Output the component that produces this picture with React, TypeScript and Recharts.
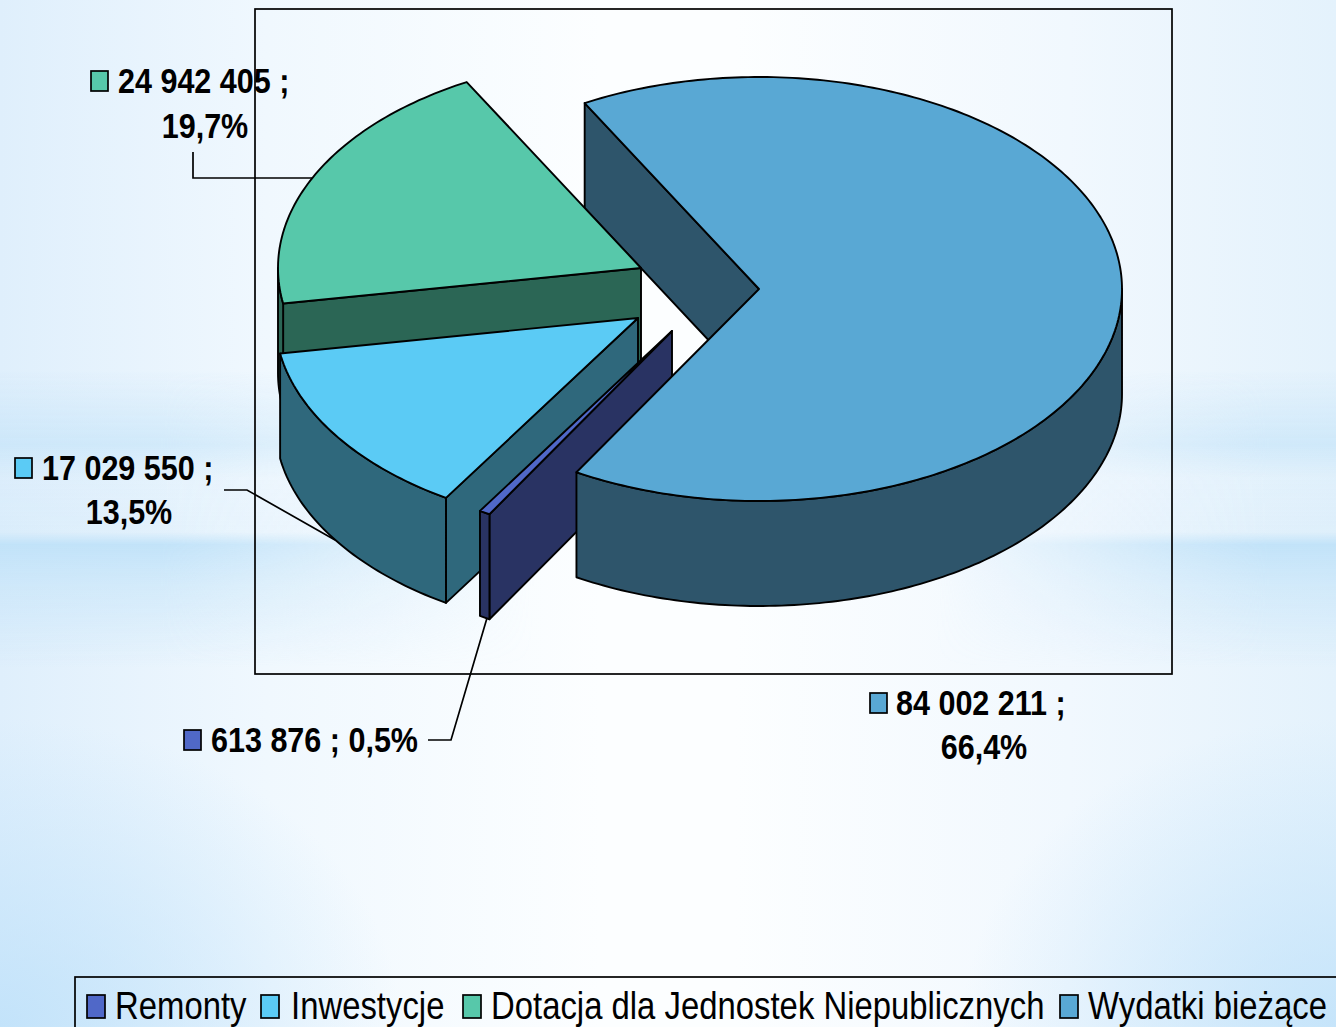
import React from 'react';
import { PieChart, Pie, Legend } from 'recharts';

// paint order: back to front, running counter-clockwise from the back cut
const categories = ['Dotacja dla Jednostek Niepublicznych', 'Inwestycje', 'Remonty', 'Wydatki bieżące'];
const values = [24942405, 17029550, 613876, 84002211];
const topColors = ['#57C8AA', '#5BCBF5', '#5068C8', '#59A8D4'];
const sideColors = ['#2B6655', '#2F687C', '#293363', '#2E556B'];
const legendOrder = ['Remonty', 'Inwestycje', 'Dotacja dla Jednostek Niepublicznych', 'Wydatki bieżące'];

const tableData = categories.map((name, i) => ({ name, value: values[i], fill: topColors[i] }));

const W = 1336;
const H = 1027;
const CX = 759;
const CY = 289;
const RX = 363;
const TILT = 212 / 363;
const DEPTH = 105;
const START = -241.3;
const FONT = '"Liberation Sans", Arial, sans-serif';

// explosion of each slice from the pie centre, in paint order
const explode = [
  [-118, -21],
  [-121, 29],
  [-87, 42],
  [0, 0],
];

const labelLayout = [
  { key: [91, 71], text: 118, base: 93, mid: 205, base2: 138, line: '193,152 193,178 312,178' },
  { key: [15, 458], text: 42, base: 480, mid: 129, base2: 524, line: '224,490 247,490 335,540' },
  { key: [184, 730], text: 211, base: 752, mid: 0, base2: 0, line: '428,740 451,740 487,618' },
  { key: [870, 693], text: 896, base: 715, mid: 984, base2: 759, line: '' },
];

const legendLayout = [
  { key: 87, text: 115 },
  { key: 261, text: 291 },
  { key: 463, text: 491 },
  { key: 1060, text: 1088 },
];

const rad = (a: number) => (a * Math.PI) / 180;

function pt(cx: number, cy: number, a: number): [number, number] {
  return [cx + RX * Math.cos(rad(a)), cy - RX * TILT * Math.sin(rad(a))];
}

function arcPts(cx: number, cy: number, from: number, to: number) {
  const out: [number, number][] = [];
  const n = Math.max(2, Math.ceil(Math.abs(to - from)));
  for (let i = 0; i <= n; i++) out.push(pt(cx, cy, from + ((to - from) * i) / n));
  return out;
}

const toPath = (pts: [number, number][]) =>
  'M' + pts.map((p) => `${p[0].toFixed(2)} ${p[1].toFixed(2)}`).join('L') + 'Z';

function faces(props: any, mode: 'all' | 'backCut' | 'front') {
  const { startAngle, endAngle, index } = props;
  const [dx, dy] = explode[index];
  const cx = props.cx + dx;
  const cy = props.cy + dy;
  const side = sideColors[index];
  const top = topColors[index];
  const stroke = { stroke: '#000', strokeWidth: 1.9, strokeLinejoin: 'round' as const };
  const a0 = startAngle;
  const a1 = endAngle;
  const nodes: React.ReactNode[] = [];
  const cut = (a: number, key: string) => {
    const p = pt(cx, cy, a);
    const poly: [number, number][] = [[cx, cy], p, [p[0], p[1] + DEPTH], [cx, cy + DEPTH]];
    nodes.push(<path key={key} d={toPath(poly)} fill={side} {...stroke} />);
  };
  if (mode !== 'front') {
    if (Math.cos(rad(a0)) > 0) cut(a0, 'c0');
    if (Math.cos(rad(a1)) < 0) cut(a1, 'c1');
  }
  if (mode !== 'backCut') {
    // outer wall: only the near half of the rim is visible
    for (let k = -2; k <= 2; k++) {
      const lo = Math.max(a0, 180 + 360 * k);
      const hi = Math.min(a1, 360 + 360 * k);
      if (hi > lo) {
        const rim = arcPts(cx, cy, lo, hi);
        const low = rim.slice().reverse().map((p) => [p[0], p[1] + DEPTH] as [number, number]);
        nodes.push(<path key={`w${k}`} d={toPath(rim.concat(low))} fill={side} {...stroke} />);
      }
    }
    const topPts: [number, number][] = [[cx, cy], ...arcPts(cx, cy, a0, a1)];
    nodes.push(<path key="t" d={toPath(topPts)} fill={top} {...stroke} />);
  }
  return <g>{nodes}</g>;
}

const frontShape = (props: any) => faces(props, props.index === 3 ? 'front' : 'all');
const backShape = (props: any) => (props.index === 3 ? faces(props, 'backCut') : <g />);

const fmtValue = (v: number) => String(v).replace(/\B(?=(\d{3})+$)/g, ' ');
const fmtPct = (p: number) => (p * 100).toFixed(1).replace('.', ',') + '%';

function renderLabel(props: any) {
  const { index, value, percent } = props;
  const l = labelLayout[index];
  const common = { fontFamily: FONT, fontWeight: 700, fontSize: 34.5, fill: '#000' };
  const sx = 0.885;
  const first = `${fmtValue(value)} ;`;
  const second = fmtPct(percent);
  return (
    <g key={`lab${index}`}>
      {l.line && <polyline points={l.line} fill="none" stroke="#000" strokeWidth={1.7} />}
      <rect x={l.key[0]} y={l.key[1]} width={17} height={20} fill={topColors[index]} stroke="#000" strokeWidth={1.7} />
      <text {...common} transform={`translate(${l.text} ${l.base}) scale(${sx} 1)`}>
        {l.mid ? first : `${first} ${second}`}
      </text>
      {l.mid > 0 && (
        <text {...common} textAnchor="middle" transform={`translate(${l.mid} ${l.base2}) scale(${sx} 1)`}>
          {second}
        </text>
      )}
    </g>
  );
}

function renderLegend() {
  return (
    <svg width={W} height={H} style={{ display: 'block' }}>
      <rect x={75} y={977} width={W} height={H} fill="none" stroke="#000" strokeWidth={1.7} />
      {legendOrder.map((name, i) => {
        const idx = categories.indexOf(name);
        return (
          <g key={name}>
            <rect x={legendLayout[i].key} y={995} width={18} height={23} fill={topColors[idx]} stroke="#000" strokeWidth={1.7} />
            <text
              fontFamily={FONT}
              fontSize={38}
              fill="#000"
              transform={`translate(${legendLayout[i].text} 1019) scale(0.865 1)`}
            >
              {name}
            </text>
          </g>
        );
      })}
    </svg>
  );
}

const baseBackground = [
  'radial-gradient(ellipse 30% 30% at 0% 100%, rgba(190,225,250,0.85) 0%, rgba(190,225,250,0) 100%)',
  'radial-gradient(ellipse 28% 30% at 100% 100%, rgba(190,225,250,0.8) 0%, rgba(190,225,250,0) 100%)',
  'linear-gradient(to right, #DFEFFC 0%, #F0F8FE 20%, #FCFEFF 45%, #FCFEFF 55%, #F1F8FE 80%, #E4F2FC 100%)',
].join(',');

const bandBackground =
  'linear-gradient(to bottom, rgba(190,225,248,0) 36%, rgba(190,225,248,0.55) 43.3%, rgba(190,225,248,0.1) 46.5%, rgba(190,225,248,0.15) 51.8%, rgba(190,225,248,0.9) 53%, rgba(190,225,248,0.5) 57%, rgba(190,225,248,0) 65%)';
const bandMask =
  'linear-gradient(to right, #000 0%, #000 12%, transparent 40%, transparent 70%, #000 95%, #000 100%)';

export default function App() {
  return (
    <div style={{ position: 'absolute', left: 0, top: 0, width: W, height: H, overflow: 'hidden', background: baseBackground }}>
      <div
        style={{
          position: 'absolute',
          inset: 0,
          background: bandBackground,
          WebkitMaskImage: bandMask,
          maskImage: bandMask,
        }}
      />
      <PieChart width={W} height={H} margin={{ top: 0, right: 0, bottom: 0, left: 0 }}>
        <rect x={255} y={9} width={917} height={665} fill="none" stroke="#000" strokeWidth={1.7} />
        <Pie
          data={tableData}
          dataKey="value"
          nameKey="name"
          cx={CX}
          cy={CY}
          outerRadius={RX}
          startAngle={START}
          endAngle={START + 360}
          shape={backShape}
          legendType="none"
          isAnimationActive={false}
        />
        <Pie
          data={tableData}
          dataKey="value"
          nameKey="name"
          cx={CX}
          cy={CY}
          outerRadius={RX}
          startAngle={START}
          endAngle={START + 360}
          shape={frontShape}
          label={renderLabel}
          labelLine={false}
          isAnimationActive={false}
        />
        <Legend
          content={renderLegend}
          wrapperStyle={{ position: 'absolute', left: 0, top: 0, width: W, height: H, pointerEvents: 'none' }}
        />
      </PieChart>
    </div>
  );
}
